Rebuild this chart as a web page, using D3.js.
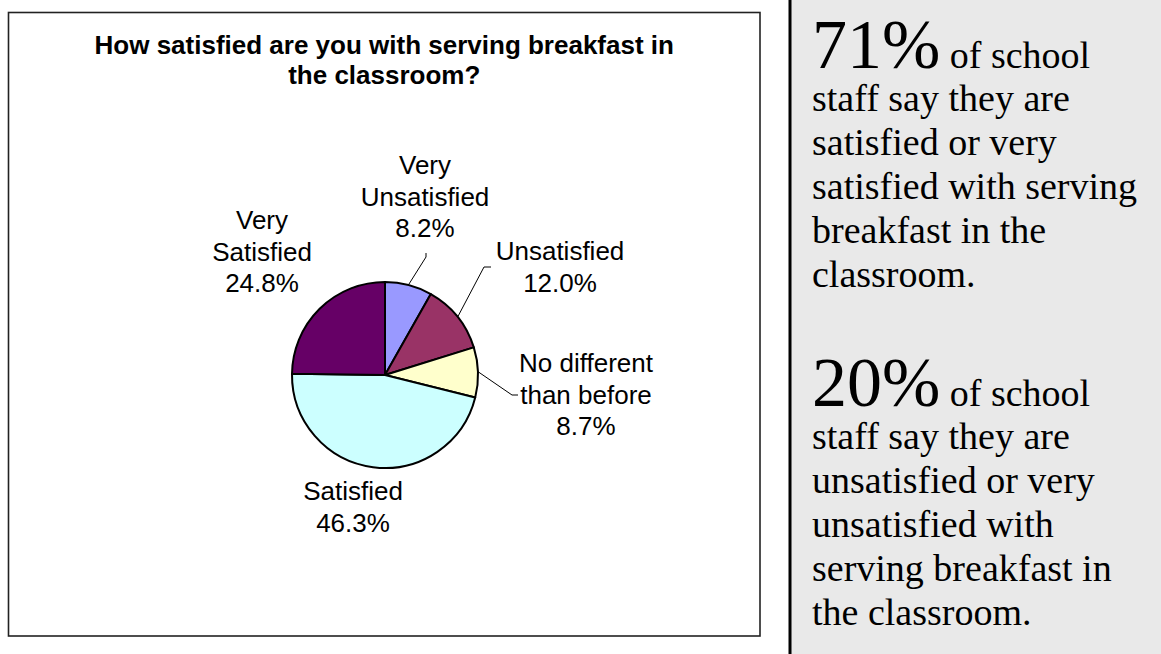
<!DOCTYPE html>
<html>
<head>
<meta charset="utf-8">
<script src="https://cdn.jsdelivr.net/npm/d3@7"></script>
<style>
  html, body { margin: 0; padding: 0; background: #ffffff; }
  svg { display: block; }
</style>
</head>
<body>
<svg id="chart" width="1161" height="654"></svg>
<script>
// ---- data ----
const categories = ["Very Unsatisfied", "Unsatisfied", "No different than before", "Satisfied", "Very Satisfied"];
const values = [8.2, 12.0, 8.7, 46.3, 24.8];
const labelLines = [
  ["Very", "Unsatisfied", "8.2%"],
  ["Unsatisfied", "12.0%"],
  ["No different", "than before", "8.7%"],
  ["Satisfied", "46.3%"],
  ["Very", "Satisfied", "24.8%"]
];
const colors = ["#9999FF", "#993366", "#FFFFCC", "#CCFFFF", "#660066"];
const titleLines = ["How satisfied are you with serving breakfast in", "the classroom?"];
const panelBlocks = [
  { big: "71%", rest: " of school", lines: ["staff say they are", "satisfied or very", "satisfied with serving", "breakfast in the", "classroom."] },
  { big: "20%", rest: " of school", lines: ["staff say they are", "unsatisfied or very", "unsatisfied with", "serving breakfast in", "the classroom."] }
];

// ---- layout ----
const svg = d3.select("#chart");
const box = { x: 8.5, y: 12.5, w: 751.5, h: 623.5 };
const cx = 385, cy = 375, r = 93;

// chart frame
svg.append("rect")
  .attr("x", box.x).attr("y", box.y).attr("width", box.w).attr("height", box.h)
  .attr("fill", "#ffffff").attr("stroke", "#222").attr("stroke-width", 1.6);

// title
const title = svg.append("g")
  .style("font-family", "Arial, 'Liberation Sans', sans-serif")
  .style("font-weight", "bold").style("font-size", "26px").attr("fill", "#000");
title.selectAll("text").data(titleLines).join("text")
  .attr("x", box.x + box.w / 2).attr("y", (d, i) => 54 + i * 30)
  .attr("text-anchor", "middle")
  .text(d => d);

// pie
const pie = d3.pie().sort(null).value(d => d)(values);
const arc = d3.arc().innerRadius(0).outerRadius(r);
const g = svg.append("g").attr("transform", `translate(${cx},${cy})`);
g.selectAll("path").data(pie).join("path")
  .attr("d", arc)
  .attr("fill", (d, i) => colors[i])
  .attr("stroke", "#000").attr("stroke-width", 2).attr("stroke-linejoin", "round");

// labels: anchor positions relative to pie center
const labelPos = [
  { x: 40, y: -201 },
  { x: 175, y: -115 },
  { x: 201, y: -3 },
  { x: -32, y: 125 },
  { x: -123, y: -146 }
];
const lineH = 31.5;
const lbl = svg.append("g")
  .style("font-family", "Arial, 'Liberation Sans', sans-serif")
  .style("font-size", "26px").attr("fill", "#000");
lbl.selectAll("text").data(labelLines).join("text")
  .attr("text-anchor", "middle")
  .attr("x", (d, i) => cx + labelPos[i].x)
  .attr("y", (d, i) => cy + labelPos[i].y)
  .selectAll("tspan").data((d, i) => d.map(t => ({ t, i }))).join("tspan")
  .attr("x", d => cx + labelPos[d.i].x)
  .attr("dy", (d, j) => j === 0 ? 0 : lineH)
  .text(d => d.t);

// leader lines (label end -> slice edge at the slice's mid angle)
const leaders = [
  { i: 0, pts: [[41, -122], [41, -118]] },
  { i: 1, pts: [[106, -108], [99, -108]] },
  { i: 2, pts: [[133, 20], [127, 20]] }
];
leaders.forEach(L => {
  const a = pie[L.i];
  const mid = (a.startAngle + a.endAngle) / 2;
  const e = [Math.sin(mid) * (r + 1), -Math.cos(mid) * (r + 1)];
  const pts = L.pts.concat([e]).map(p => [cx + p[0], cy + p[1]]);
  svg.append("path")
    .attr("d", d3.line()(pts))
    .attr("fill", "none").attr("stroke", "#000").attr("stroke-width", 1);
});

// right panel
svg.append("rect").attr("x", 790).attr("y", 0).attr("width", 371).attr("height", 654)
  .attr("fill", "#e9e9e9");
svg.append("line").attr("x1", 790).attr("x2", 790).attr("y1", 0).attr("y2", 654)
  .attr("stroke", "#000").attr("stroke-width", 3);

const panel = svg.append("g")
  .style("font-family", "'Times New Roman', 'Liberation Serif', serif").attr("fill", "#000");
const blockTop = [68, 406];
const pLine = 44;
panelBlocks.forEach((b, k) => {
  const t = panel.append("text").attr("x", 812).attr("y", blockTop[k]);
  t.append("tspan").style("font-size", "70px").text(b.big);
  t.append("tspan").style("font-size", "38px").text(b.rest);
  b.lines.forEach((ln, j) => {
    panel.append("text").attr("x", 812).attr("y", blockTop[k] + 43 + j * pLine)
      .style("font-size", "38px").text(ln);
  });
});
</script>
</body>
</html>
